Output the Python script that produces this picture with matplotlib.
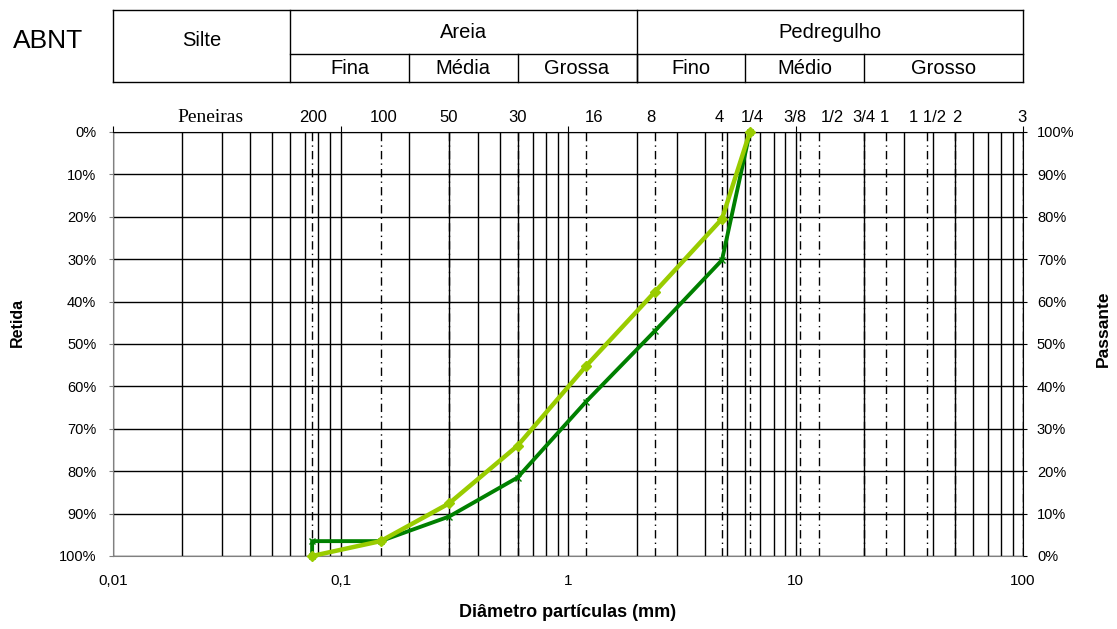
import matplotlib
matplotlib.use("Agg")
import matplotlib.pyplot as plt
import matplotlib.transforms as mtransforms
from matplotlib.ticker import FixedLocator, LogLocator, NullFormatter, FuncFormatter

plt.rcParams['font.family'] = ['Liberation Sans', 'DejaVu Sans']

# peneiras e aberturas (mm)
sieve_names = ["200", "100", "50", "30", "16", "8", "4", "1/4", "3/8", "1/2",
               "3/4", "1", "1 1/2", "2", "3"]
sieve_mm = [0.075, 0.15, 0.3, 0.6, 1.2, 2.4, 4.75, 6.3, 10.5, 12.7,
            20, 25, 38, 50, 100]
# onde os rotulos das peneiras ficam escritos (mm)
sieve_label_at = [0.0757, 0.155, 0.30, 0.60, 1.30, 2.32, 4.61, 6.44, 9.95,
                  14.5, 20.0, 24.5, 38.2, 51.3, 99.0]

# curvas granulometricas (% retida)
curve_a_mm = [0.075, 0.15, 0.3, 0.6, 1.2, 2.4, 4.75, 6.3]
curve_a_ret = [100, 96.5, 87.6, 74.0, 55.2, 37.8, 20.5, 0]
curve_b_mm = [0.075, 0.075, 0.15, 0.3, 0.6, 1.2, 2.4, 4.75, 6.3]
curve_b_ret = [100, 96.5, 96.5, 90.7, 81.5, 63.6, 47.0, 30.2, 0]

# classificacao ABNT
abnt_main = ["Silte", "Areia", "Pedregulho"]
abnt_main_lim = [0.01, 0.06, 2.0, 100]
abnt_sub = ["Fina", "Média", "Grossa", "Fino", "Médio", "Grosso"]
abnt_sub_lim = [0.06, 0.2, 0.6, 2.0, 6.0, 20, 100]

x_ticks = [0.01, 0.1, 1, 10, 100]
x_labels = ["0,01", "0,1", "1", "10", "100"]
pct_ticks = list(range(0, 101, 10))

light = "#99CC00"
dark = "#008000"

fig = plt.figure(figsize=(11.17, 6.29), dpi=100)
ax = fig.add_axes([0.1012, 0.1161, 0.8147, 0.6741])

ax.set_xscale('log')
ax.set_xlim(0.01, 100)
ax.set_ylim(100, 0)

# grade
ax.xaxis.set_major_locator(FixedLocator(x_ticks))
ax.xaxis.set_minor_locator(LogLocator(base=10, subs=range(2, 10)))
ax.xaxis.set_minor_formatter(NullFormatter())
ax.set_xticklabels(x_labels)
ax.set_yticks(pct_ticks)
ax.yaxis.set_major_formatter(FuncFormatter(lambda v, p: f"{int(v)}%"))
ax.grid(True, which='both', axis='x', color='black', lw=1.0, zorder=1)
ax.grid(True, which='major', axis='y', color='black', lw=1.0, zorder=1)
ax.set_axisbelow(True)

ax.tick_params(axis='x', which='both', bottom=False, top=True, direction='out',
               labelsize=11, pad=9)
ax.tick_params(axis='x', which='major', length=4, color='black')
ax.tick_params(axis='x', which='minor', length=0)
ax.tick_params(axis='y', which='major', left=True, length=3, direction='out',
               labelsize=10.5, pad=9, color='#808080')

for s in ['left', 'bottom']:
    ax.spines[s].set_color('#808080')
ax.spines['top'].set_color('black')
ax.spines['right'].set_color('black')

# linhas das peneiras
for d in sieve_mm:
    ax.axvline(d, color='black', lw=1.0, ls=(0, (6, 3, 1, 3)), zorder=2)

# rotulos das peneiras
trans = mtransforms.blended_transform_factory(ax.transData, ax.transAxes)
for name, d in zip(sieve_names, sieve_label_at):
    ax.text(d, 1.033, name, transform=trans, ha='center', va='center',
            fontsize=12)
ax.text(0.0267, 1.033, "Peneiras", transform=trans, ha='center', va='center',
        fontsize=14, family=['Liberation Serif', 'DejaVu Serif'])

# curvas
ax.plot(curve_b_mm, curve_b_ret, color=dark, lw=2.8, marker='x', ms=5,
        mew=1.0, zorder=5, clip_on=False)
ax.plot(curve_a_mm, curve_a_ret, color=light, lw=3.2, marker='D', ms=5,
        mew=1.0, zorder=6, clip_on=False)

# eixo direito (passante)
ax2 = ax.twinx()
ax2.set_ylim(0, 100)
ax2.set_yticks(pct_ticks)
ax2.yaxis.set_major_formatter(FuncFormatter(lambda v, p: f"{int(v)}%"))
ax2.tick_params(axis='y', length=3, direction='out', labelsize=10.5, pad=7)
for s in ax2.spines.values():
    s.set_visible(False)

fig.text(0.016, 0.488, "Retida", rotation=90, ha='center', va='center',
         fontsize=11.5, fontweight='bold')
fig.text(0.988, 0.477, "Passante", rotation=90, ha='center', va='center',
         fontsize=12.5, fontweight='bold')
fig.text(0.508, 0.027, "Diâmetro partículas (mm)", ha='center', va='center',
         fontsize=13, fontweight='bold')

# tabela ABNT
axt = fig.add_axes([0.1012, 0.8696, 0.8147, 0.1145])
axt.set_xscale('log')
axt.set_xlim(0.01, 100)
axt.set_ylim(0, 1)
axt.axis('off')
split = 28 / 72

lk = dict(color='black', lw=1.0, clip_on=False)
axt.plot([0.01, 100], [1, 1], **lk)
axt.plot([0.01, 100], [0, 0], **lk)
for xv in abnt_main_lim:
    axt.plot([xv, xv], [0, 1], **lk)
axt.plot([abnt_main_lim[1], 100], [split, split], **lk)
for xv in abnt_sub_lim[1:-1]:
    axt.plot([xv, xv], [0, split], **lk)

for name, a, b in zip(abnt_main, abnt_main_lim[:-1], abnt_main_lim[1:]):
    yc = 0.58 if name == "Silte" else (1 + split) / 2
    axt.text((a * b) ** 0.5, yc, name, ha='center', va='center', fontsize=14.5)
for name, a, b in zip(abnt_sub, abnt_sub_lim[:-1], abnt_sub_lim[1:]):
    axt.text((a * b) ** 0.5, split / 2, name, ha='center', va='center',
             fontsize=14.5)

fig.text(0.043, 0.935, "ABNT", ha='center', va='center', fontsize=19)

fig.savefig("out.png", dpi=100)
